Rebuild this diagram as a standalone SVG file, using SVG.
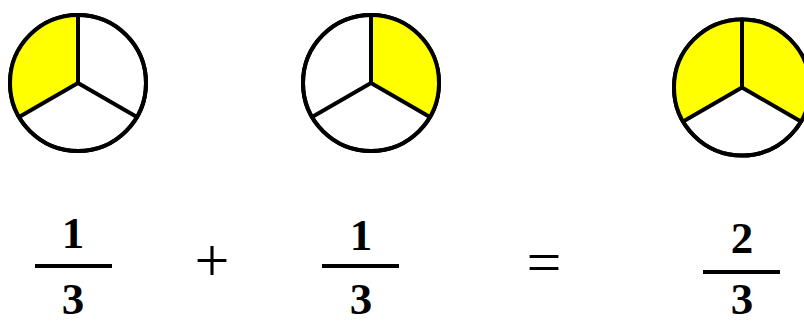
<svg xmlns="http://www.w3.org/2000/svg" width="804" height="324" viewBox="0 0 804 324">
<defs>
<style>
.rim{fill:#fff;stroke:#000;stroke-width:4}
.fill{fill:#ffff00;stroke:none}
.spoke{stroke:#000;stroke-width:4;stroke-linecap:round;fill:none}
.bar{stroke:#000;stroke-width:4;stroke-linecap:butt}
.num{font-family:"Liberation Serif","Times New Roman",serif;font-weight:bold;font-size:45px;fill:#000;text-anchor:middle}
.op{font-family:"Liberation Serif","Times New Roman",serif;font-size:62px;fill:#000;text-anchor:middle}
</style>
</defs>
<rect width="804" height="324" fill="#fff"/>
<g id="circle1" transform="translate(78,83)">
<circle class="rim" r="68"/>
<path class="fill" d="M0,0 L0,-68 A68,68 0 0 0 -58.9,34 Z"/>
<circle r="68" fill="none" stroke="#000" stroke-width="4"/>
<path class="spoke" d="M0,0 V-68 M0,0 L-58.9,34 M0,0 L58.9,34"/>
</g>
<g id="circle2" transform="translate(371,83)">
<circle class="rim" r="68"/>
<path class="fill" d="M0,0 L0,-68 A68,68 0 0 1 58.9,34 Z"/>
<circle r="68" fill="none" stroke="#000" stroke-width="4"/>
<path class="spoke" d="M0,0 V-68 M0,0 L-58.9,34 M0,0 L58.9,34"/>
</g>
<g id="circle3" transform="translate(742,87.5)">
<circle class="rim" r="68"/>
<path class="fill" d="M0,0 L-58.9,34 A68,68 0 1 1 58.9,34 Z"/>
<circle r="68" fill="none" stroke="#000" stroke-width="4"/>
<path class="spoke" d="M0,0 V-68 M0,0 L-58.9,34 M0,0 L58.9,34"/>
</g>
<g id="fraction1">
<text class="num" x="73" y="248">1</text>
<line class="bar" x1="35" y1="266" x2="112" y2="266"/>
<text class="num" x="73" y="314">3</text>
</g>
<g id="plus">
<text class="op" x="212" y="281">+</text>
</g>
<g id="fraction2">
<text class="num" x="361" y="250">1</text>
<line class="bar" x1="322" y1="266" x2="399" y2="266"/>
<text class="num" x="361" y="314">3</text>
</g>
<g id="equals">
<text class="op" x="544" y="283">=</text>
</g>
<g id="fraction3">
<text class="num" x="742" y="253">2</text>
<line class="bar" x1="703" y1="272" x2="780" y2="272"/>
<text class="num" x="742" y="314">3</text>
</g>
<g id="connectors"></g>
</svg>
